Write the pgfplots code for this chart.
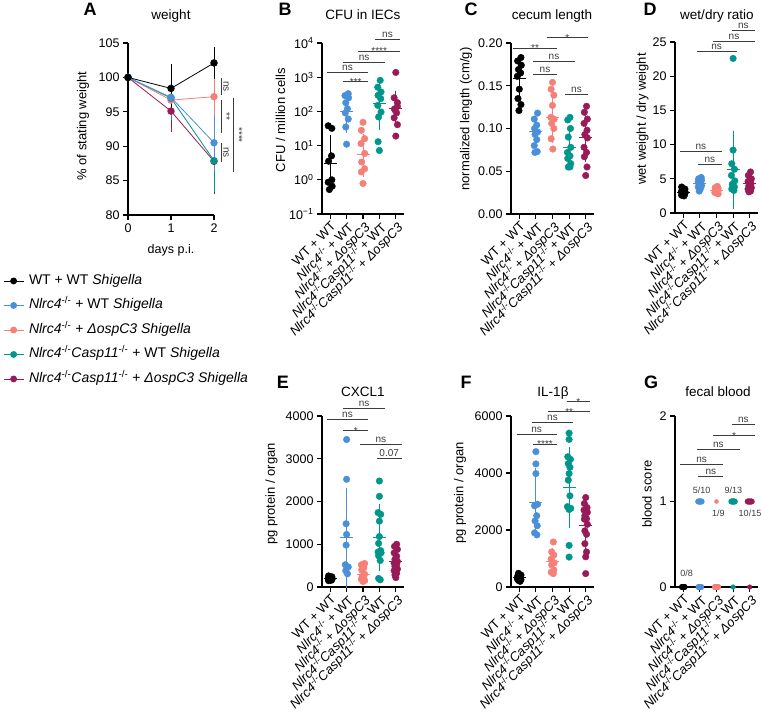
\documentclass[border=0pt]{standalone}
\usepackage{fontspec}
\setmainfont{Liberation Sans}
\usepackage{pgfplots}
\pgfplotsset{compat=1.18}

\definecolor{cblk}{RGB}{0,0,0}
\definecolor{cblu}{RGB}{74,144,217}
\definecolor{cpnk}{RGB}{246,128,120}
\definecolor{ctel}{RGB}{0,150,140}
\definecolor{cmar}{RGB}{152,26,88}
\definecolor{cann}{RGB}{60,60,60}

\newcommand{\ko}{\textsuperscript{-/-}}
\newcommand{\fs}[1]{\fontsize{#1}{#1}\selectfont}

\pgfplotsset{
  prism/.style={
    scale only axis, clip=false,
    axis x line*=bottom, axis y line*=left,
    axis line style={line width=1.1pt, -},
    tick style={line width=1.1pt, black},
    tick align=outside, major tick length=5pt,
    tick label style={font=\fs{12.5}},
    scaled y ticks=false,
    /pgf/number format/assume math mode=true,
    /pgf/number format/1000 sep={},
  },
  cat/.style={prism, xmin=-0.5, xmax=4.5, xtick={0,1,2,3,4},
    xticklabels={WT + WT, \textit{Nlrc4}\ko{} + WT, \textit{Nlrc4}\ko{} + \textit{ΔospC3},
      \textit{Nlrc4}\ko\textit{Casp11}\ko{} + WT, \textit{Nlrc4}\ko\textit{Casp11}\ko{} + \textit{ΔospC3}},
    x tick label style={rotate=45, anchor=north east, font=\fs{13}, inner sep=1pt},
  },
}

% scatter points of one group
\newcommand{\pts}[2]{\addplot[only marks, mark=*, mark size=3.3pt, color=#1] coordinates {#2};}
% mean line with SD bars
\newcommand{\msd}[2]{\addplot[only marks, mark=-, mark size=6.5pt, color=#1, mark options={line width=1pt},
  error bars/.cd, y dir=both, y explicit, error bar style={line width=1pt, color=#1},
  error mark options={mark size=3.5pt, line width=1pt, color=#1}] coordinates {#2};}

% significance bars (pixel coordinates)
\newcommand{\sigt}[4]{\draw[line width=0.8pt, cann] (#1,#3) -- (#2,#3);
  \node[anchor=base, inner sep=0pt, font=\fs{10}, text=cann] at ({(#1+#2)/2},#3-2) {#4};}
\newcommand{\sigs}[4]{\draw[line width=0.8pt, cann] (#1,#3) -- (#2,#3);
  \node[anchor=base, inner sep=0pt, font=\fs{10}, text=cann] at ({(#1+#2)/2},#3+3.4) {#4};}

\begin{document}
\begin{tikzpicture}
\useasboundingbox (0pt,0pt) rectangle (761pt,-713pt);

% ---------------- A: weight
\begin{axis}[prism, at={(128pt,-215pt)}, anchor=south west, width=86pt, height=172pt,
  xmin=0, xmax=2, ymin=80, ymax=105, xtick={0,1,2}, ytick={80,85,...,105},
  legend style={at={(-1.488,-0.33)}, anchor=north west, draw=none, fill=none,
    font=\fs{14}, row sep=10.5pt, legend cell align=left,
    nodes={inner xsep=5pt, inner ysep=0pt, text height=10.5pt, text depth=3.5pt}},
  legend image code/.code={\draw[mark repeat=2, mark phase=2, #1]
    plot coordinates {(0pt,0pt) (10pt,0pt) (20pt,0pt)};},
]
\addlegendimage{cblk, mark=*, mark size=3pt, line width=0.8pt}
\addlegendentry{WT + WT \textit{Shigella}}
\addlegendimage{cblu, mark=*, mark size=3pt, line width=0.8pt}
\addlegendentry{\textit{Nlrc4}\ko{} + WT \textit{Shigella}}
\addlegendimage{cpnk, mark=*, mark size=3pt, line width=0.8pt}
\addlegendentry{\textit{Nlrc4}\ko{} + \textit{ΔospC3 Shigella}}
\addlegendimage{ctel, mark=*, mark size=3pt, line width=0.8pt}
\addlegendentry{\textit{Nlrc4}\ko\textit{Casp11}\ko{} + WT \textit{Shigella}}
\addlegendimage{cmar, mark=*, mark size=3pt, line width=0.8pt}
\addlegendentry{\textit{Nlrc4}\ko\textit{Casp11}\ko{} + \textit{ΔospC3 Shigella}}

\addplot[cmar, mark=*, mark size=3.3pt, line width=0.8pt, forget plot,
  error bars/.cd, y dir=both, y explicit, error bar style={line width=0.8pt},
  error mark options={mark size=3.5pt, line width=0.8pt}]
  coordinates {(0,100) +- (0,0) (1,95.1) +- (0,2.5) (2,87.8) +- (0,4.2)};
\addplot[cpnk, mark=*, mark size=3.3pt, line width=0.8pt, forget plot,
  error bars/.cd, y dir=both, y explicit, error bar style={line width=0.8pt},
  error mark options={mark size=3.5pt, line width=0.8pt}]
  coordinates {(0,100) +- (0,0) (1,96.7) +- (0,1.5) (2,97.2) +- (0,3.1)};
\addplot[ctel, mark=*, mark size=3.3pt, line width=0.8pt, forget plot,
  error bars/.cd, y dir=both, y explicit, error bar style={line width=0.8pt},
  error mark options={mark size=3.5pt, line width=0.8pt}]
  coordinates {(0,100) +- (0,0) (1,97.0) +- (0,2.7) (2,87.9) +- (0,4.0)};
\addplot[cblu, mark=*, mark size=3.3pt, line width=0.8pt, forget plot,
  error bars/.cd, y dir=both, y explicit, error bar style={line width=0.8pt},
  error mark options={mark size=3.5pt, line width=0.8pt}]
  coordinates {(0,100) +- (0,0) (1,97.1) +- (0,2.2) (2,90.5) +- (0,3.6)};
\addplot[cblk, mark=*, mark size=3.3pt, line width=0.8pt, forget plot,
  error bars/.cd, y dir=both, y explicit, error bar style={line width=0.8pt},
  error mark options={mark size=3.5pt, line width=0.8pt}]
  coordinates {(0,100) +- (0,0) (1,98.4) +- (0,3.1) (2,102.1) +- (0,1.8)};
\end{axis}

% ---------------- B: CFU in IECs
\begin{axis}[cat, at={(322pt,-214pt)}, anchor=south west, width=82pt, height=171pt,
  ymode=log, ymin=0.1, ymax=10000, ytick={0.1,1,10,100,1000,10000}, yminorticks=false,
  yticklabels={10\textsuperscript{−1},10\textsuperscript{0},10\textsuperscript{1},
    10\textsuperscript{2},10\textsuperscript{3},10\textsuperscript{4}}]
\pts{cblk}{(-0.12,38) (0.1,32) (0.08,5) (-0.1,3.5) (0.1,1.0) (-0.12,0.85) (0.12,0.65) (-0.05,0.52)}
\pts{cblu}{(1.1,330) (0.9,290) (1.12,250) (0.95,180) (1.05,120) (0.92,90) (1.1,60) (0.95,35) (1.0,11)}
\pts{cpnk}{(2.0,48) (1.9,28) (2.1,16) (1.88,11.5) (2.1,5.9) (1.92,3.3) (2.1,2.1) (1.9,1.7) (2.0,0.78)}
\pts{ctel}{(3.05,810) (2.9,510) (3.1,370) (2.92,295) (3.08,236) (2.9,150) (3.1,96) (2.95,69) (2.92,13) (3.0,7.2)}
\pts{cmar}{(4,1380) (3.9,250) (4.1,180) (4.1,140) (3.92,118) (3.95,110) (4.05,91) (3.9,65) (4.1,41) (4.0,19)}
\msd{cblk}{(0,3) += (0,13) -= (0,2.1)}
\msd{cblu}{(1,100) += (0,200) -= (0,70)}
\msd{cpnk}{(2,5.5) += (0,12) -= (0,4)}
\msd{ctel}{(3,170) += (0,500) -= (0,133)}
\msd{cmar}{(4,120) += (0,200) -= (0,70)}
\end{axis}

% ---------------- C: cecum length
\begin{axis}[cat, at={(511pt,-214pt)}, anchor=south west, width=83pt, height=171pt,
  ymin=0, ymax=0.2, ytick={0,0.05,0.1,0.15,0.2},
  yticklabel style={/pgf/number format/.cd, fixed, fixed zerofill, precision=2}]
\pts{cblk}{(0.1,0.183) (-0.1,0.179) (0.12,0.174) (-0.05,0.169) (0.08,0.165) (-0.12,0.161) (0.0,0.146) (-0.08,0.135) (0.1,0.128) (-0.02,0.121)}
\pts{cblu}{(1.1,0.118) (0.9,0.111) (1.05,0.104) (0.92,0.100) (1.1,0.096) (0.95,0.093) (1.05,0.087) (0.9,0.080) (1.08,0.073) (0.94,0.072)}
\pts{cpnk}{(2,0.154) (1.92,0.146) (2.08,0.139) (2.0,0.127) (1.9,0.113) (2.1,0.111) (1.95,0.106) (2.08,0.100) (1.92,0.088) (2.02,0.076)}
\pts{ctel}{(3.05,0.113) (2.92,0.110) (3.08,0.100) (2.95,0.090) (3.1,0.078) (2.9,0.072) (3.05,0.068) (2.92,0.065) (3.1,0.059) (2.95,0.055) (3.05,0.055)}
\pts{cmar}{(4.05,0.126) (3.92,0.119) (4.1,0.111) (3.9,0.106) (4.08,0.098) (3.95,0.093) (4.1,0.089) (3.9,0.078) (4.05,0.072) (3.92,0.067) (4.08,0.055) (4.0,0.045)}
\msd{cblk}{(0,0.158) +- (0,0.019)}
\msd{cblu}{(1,0.096) +- (0,0.015)}
\msd{cpnk}{(2,0.113) +- (0,0.026)}
\msd{ctel}{(3,0.078) +- (0,0.020)}
\msd{cmar}{(4,0.089) +- (0,0.024)}
\end{axis}

% ---------------- D: wet/dry ratio
\begin{axis}[cat, at={(675pt,-213pt)}, anchor=south west, width=83pt, height=171pt,
  ymin=0, ymax=25, ytick={0,5,...,25}]
\pts{cblk}{(-0.1,3.8) (0.1,3.5) (0.0,3.3) (-0.12,3.1) (0.12,3.0) (-0.05,2.9) (0.08,2.8) (-0.1,2.6) (0.05,2.5)}
\pts{cblu}{(1.08,5.2) (0.92,5.0) (1.1,4.8) (0.9,4.6) (1.05,4.4) (0.95,4.2) (1.1,4.0) (0.9,3.8) (1.02,3.5) (0.96,3.2)}
\pts{cpnk}{(2.05,3.9) (1.92,3.7) (2.1,3.6) (1.95,3.4) (2.08,3.2) (1.9,3.0) (2.02,2.9) (2.1,2.8)}
\pts{ctel}{(3,22.6) (3.0,9.2) (2.92,7.2) (3.08,6.4) (2.9,5.5) (3.1,4.7) (2.95,4.2) (3.08,3.8) (2.92,3.5) (3.05,3.3)}
\pts{cmar}{(4.05,6.0) (3.92,5.5) (4.1,5.0) (3.9,4.6) (4.08,4.3) (3.95,4.0) (4.1,3.7) (3.9,3.5) (4.05,3.2) (3.95,3.1)}
\msd{cblk}{(0,3.0) +- (0,0.45)}
\msd{cblu}{(1,4.3) +- (0,0.65)}
\msd{cpnk}{(2,3.3) +- (0,0.4)}
\msd{ctel}{(3,6.3) +- (0,5.2)}
\msd{cmar}{(4,4.3) +- (0,1.0)}
\end{axis}

% ---------------- E: CXCL1
\begin{axis}[cat, at={(322pt,-587pt)}, anchor=south west, width=82pt, height=171pt,
  ymin=0, ymax=4000, ytick={0,1000,...,4000}]
\pts{cblk}{(-0.1,260) (0.1,240) (0,220) (-0.12,200) (0.12,190) (-0.05,180) (0.08,160) (-0.1,150)}
\pts{cblu}{(1,3450) (1,2520) (0.97,1480) (1.0,1230) (0.97,980) (0.92,520) (1.1,470) (0.95,380) (1.05,310)}
\pts{cpnk}{(2.1,550) (1.9,520) (2.05,450) (1.92,400) (2.1,300) (1.95,250) (2.05,200) (1.9,180) (2.1,150) (2.0,130)}
\pts{ctel}{(3,2480) (3,2120) (2.92,1740) (3.08,1700) (3,1540) (3,1180) (2.95,1020) (3.08,850) (2.92,820) (3.1,800) (2.95,730) (3.05,620) (2.95,200) (3.05,170)}
\pts{cmar}{(4.05,1000) (3.92,950) (4.1,880) (3.9,800) (4.05,720) (3.95,650) (4.1,600) (3.9,560) (4.05,520) (3.95,480) (4.1,420) (3.9,380) (4.05,320) (3.95,280) (4.0,220)}
\msd{cblk}{(0,200) +- (0,40)}
\msd{cblu}{(1,1150) +- (0,1080)}
\msd{cpnk}{(2,290) +- (0,150)}
\msd{ctel}{(3,1150) +- (0,700)}
\msd{cmar}{(4,590) +- (0,250)}
\end{axis}

% ---------------- F: IL-1b
\begin{axis}[cat, at={(511pt,-587pt)}, anchor=south west, width=83pt, height=171pt,
  ymin=0, ymax=6000, ytick={0,2000,4000,6000}]
\pts{cblk}{(-0.05,480) (0.1,420) (-0.1,380) (0.08,330) (-0.12,290) (0.1,260) (-0.05,230) (0.05,200)}
\pts{cblu}{(1,4750) (1,4320) (1,3980) (1.1,2900) (0.92,2850) (1.05,2500) (0.95,2320) (1.08,2150) (0.92,1900) (1.06,1830)}
\pts{cpnk}{(2.05,1580) (1.95,1230) (2.08,1120) (1.92,980) (2.1,850) (1.95,780) (2.08,600) (1.92,520) (2.05,470)}
\pts{ctel}{(3,5400) (3,5180) (2.92,4570) (3.08,4480) (2.95,4330) (3.05,4200) (3,3980) (2.95,3750) (3.05,3200) (2.9,2820) (3.1,2760) (3.0,2720) (3.0,1460) (3.0,1050)}
\pts{cmar}{(4,3140) (3.92,2930) (4.08,2790) (3.9,2700) (4.1,2620) (3.95,2500) (4.05,2400) (3.92,2380) (4.1,2200) (3.95,1970) (4.05,1850) (3.95,1520) (4.05,1230) (4.0,1060) (4.0,470)}
\msd{cblk}{(0,320) +- (0,100)}
\msd{cblu}{(1,2950) +- (0,1100)}
\msd{cpnk}{(2,900) +- (0,350)}
\msd{ctel}{(3,3500) +- (0,1300)}
\msd{cmar}{(4,2150) +- (0,750)}
\end{axis}

% ---------------- G: fecal blood
\begin{axis}[cat, at={(675pt,-587pt)}, anchor=south west, width=83pt, height=171pt,
  ymin=0, ymax=2, ytick={0,1,2}]
\addplot[only marks, mark=*, mark size=2.8pt, cblk] coordinates {(-0.08,0) (-0.04,0) (0,0) (0.04,0) (0.08,0)};
\addplot[only marks, mark=*, mark size=2.8pt, cblu] coordinates {(0.92,0) (0.96,0) (1,0) (1.04,0) (1.08,0) (0.9,1) (0.95,1) (1,1) (1.05,1) (1.1,1)};
\addplot[only marks, mark=*, mark size=2.8pt, cpnk] coordinates {(1.9,0) (1.95,0) (2,0) (2.05,0) (2.1,0)};
\addplot[only marks, mark=*, mark size=2pt, cpnk] coordinates {(2,1)};
\addplot[only marks, mark=*, mark size=2.3pt, ctel] coordinates {(3,0)};
\addplot[only marks, mark=*, mark size=2.8pt, ctel] coordinates {(2.9,1) (2.95,1) (3,1) (3.05,1) (3.1,1)};
\addplot[only marks, mark=*, mark size=2.3pt, cmar] coordinates {(4,0)};
\addplot[only marks, mark=*, mark size=2.8pt, cmar] coordinates {(3.88,1) (3.94,1) (4,1) (4.06,1) (4.12,1)};
\end{axis}

% ---------------- labels and annotations in pixel coordinates
\begin{scope}[x=1pt, y=-1pt]
% panel letters
\foreach \L/\x/\y in {A/90/15, B/285/15, C/471/15, D/650/15, E/283/388, F/466/388, G/651/388}
  \node[anchor=base, inner sep=0pt, font=\fs{18}\bfseries] at (\x,\y) {\L};
% titles
\node[anchor=base, inner sep=0pt, font=\fs{13.5}] at (171,19.5) {weight};
\node[anchor=base, inner sep=0pt, font=\fs{13.5}] at (363,19.5) {CFU in IECs};
\node[anchor=base, inner sep=0pt, font=\fs{13.5}] at (552,19.5) {cecum length};
\node[anchor=base, inner sep=0pt, font=\fs{13.5}] at (717,19.5) {wet/dry ratio};
\node[anchor=base, inner sep=0pt, font=\fs{13.5}] at (363,396) {CXCL1};
\node[anchor=base, inner sep=0pt, font=\fs{13.5}] at (553,396) {IL-1β};
\node[anchor=base, inner sep=0pt, font=\fs{13.5}] at (718,396) {fecal blood};
% y labels
\node[rotate=90, inner sep=0pt, font=\fs{13}] at (83,126) {\% of stating weight};
\node[rotate=90, inner sep=0pt, font=\fs{13}] at (280.5,120) {CFU / million cells};
\node[rotate=90, inner sep=0pt, font=\fs{13}] at (466,119) {normalized length (cm/g)};
\node[rotate=90, inner sep=0pt, font=\fs{13}] at (642.5,119) {wet weight / dry weight};
\node[rotate=90, inner sep=0pt, font=\fs{13}] at (271.5,494) {pg protein / organ};
\node[rotate=90, inner sep=0pt, font=\fs{13}] at (460,493) {pg protein / organ};
\node[rotate=90, inner sep=0pt, font=\fs{13}] at (647,494) {blood score};
% x label A
\node[anchor=base, inner sep=0pt, font=\fs{12.5}] at (171,253) {days p.i.};

% A brackets
\draw[line width=0.8pt, cann] (221.7,78) -- (221.7,95);
\node[rotate=-90, inner sep=0pt, font=\fs{10}, text=cann] at (226,86.5) {ns};
\draw[line width=0.8pt, cann] (221.7,100) -- (221.7,133);
\node[rotate=-90, inner sep=0pt, font=\fs{10}, text=cann] at (226.5,116.5) {**};
\draw[line width=0.8pt, cann] (221.7,143) -- (221.7,162);
\node[rotate=-90, inner sep=0pt, font=\fs{10}, text=cann] at (226,152.5) {ns};
\draw[line width=0.8pt, cann] (233,98) -- (233,172);
\node[rotate=-90, inner sep=0pt, font=\fs{10}, text=cann] at (239,135) {****};

% B
\sigt{326.7}{368.3}{72.7}{ns}
\sigs{343.3}{368.3}{81.7}{***}
\sigt{343.3}{385}{62.3}{ns}
\sigs{358.3}{400}{51}{****}
\sigt{375}{400}{39.3}{ns}
% C
\sigs{513}{557}{48.3}{**}
\sigt{533}{575}{61.7}{ns}
\sigt{533}{557}{74}{ns}
\sigs{546.7}{588}{37.7}{*}
\sigt{565}{588}{94.3}{ns}
% D
\sigt{680}{721.7}{151.7}{ns}
\sigt{698}{721.7}{164}{ns}
\sigt{696.7}{736.7}{51.7}{ns}
\sigt{713}{755}{41}{ns}
\sigt{731.7}{755}{30}{ns}
% E
\sigt{326.7}{368.3}{419.3}{ns}
\sigs{343.3}{368.3}{430.7}{*}
\sigt{343.3}{385}{408.3}{ns}
\sigt{360}{401.7}{444.3}{ns}
\sigt{376.7}{401.7}{458.3}{0.07}
% F
\sigt{516.7}{556.7}{434}{ns}
\sigs{533.3}{556.7}{444.3}{****}
\sigt{531.7}{573.3}{422.7}{ns}
\sigs{548.3}{590}{411.7}{**}
\sigs{566.7}{590}{401.7}{*}
% G
\sigt{680}{723.3}{464}{ns}
\sigt{698.3}{723.3}{476.7}{ns}
\sigt{696.7}{740}{449.3}{ns}
\sigs{713.3}{755}{435.7}{*}
\sigt{731.7}{755}{424}{ns}
% G counts
\foreach \t/\x/\y in {0\slash 8/686.7/573.3, 5\slash 10/701.7/490, 1\slash 9/718.3/513.3, 9\slash 13/733.3/490, 10\slash 15/750/513.3}
  \node[inner sep=0pt, font=\fs{9}, text=cann] at (\x,\y) {\t};
\end{scope}
\end{tikzpicture}
\end{document}
